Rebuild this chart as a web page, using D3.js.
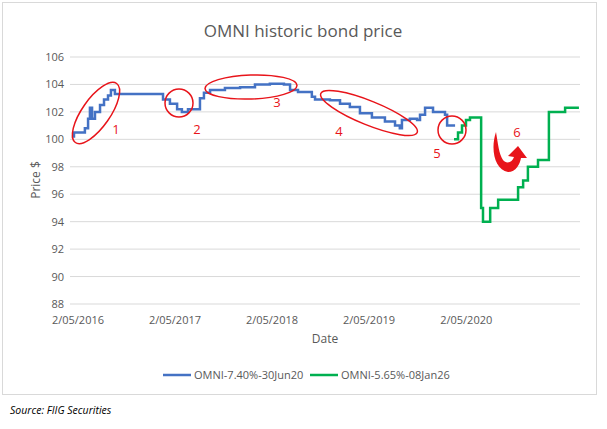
<!DOCTYPE html><html><head><meta charset="utf-8">
<script src="https://cdn.jsdelivr.net/npm/d3@7"></script>
<style>body{margin:0;background:#fff}text{font-family:"Open Sans","Liberation Sans",sans-serif}</style></head><body>
<svg id="c" width="607" height="429"></svg>
<script>
const blueDates=["2016-04-09","2016-04-17","2016-05-10","2016-05-28","2016-06-09","2016-06-16","2016-06-24","2016-07-05","2016-07-24","2016-08-08","2016-08-23","2016-09-03","2016-09-18","2017-03-18","2017-04-13","2017-05-10","2017-05-28","2017-06-20","2017-08-04","2017-08-19","2017-09-11","2017-11-06","2018-01-02","2018-02-27","2018-04-24","2018-06-16","2018-07-09","2018-08-08","2018-09-29","2018-10-11","2018-12-06","2019-01-13","2019-02-19","2019-03-29","2019-05-13","2019-07-01","2019-08-08","2019-08-26","2019-09-03","2019-10-03","2019-10-30","2019-11-10","2019-11-29","2019-12-29","2020-02-12","2020-02-20","2020-03-21"];
const blueValues=[100.2,100.5,100.5,100.8,101.5,102.3,101.5,102,102.5,102.9,103.2,103.6,103.3,102.9,102.6,102.2,102.0,102.2,103.0,103.4,103.6,103.75,103.8,104.0,104.05,104.0,103.6,103.45,103.1,102.9,102.85,102.6,102.35,101.9,101.6,101.3,101.0,100.8,101.4,101.5,101.4,101.8,102.3,102.0,101.8,101.0,101.0];
const greenDates=["2020-03-17","2020-04-01","2020-04-16","2020-05-01","2020-05-16","2020-06-19","2020-06-27","2020-07-04","2020-07-31","2020-08-30","2020-11-13","2020-12-02","2020-12-20","2021-01-27","2021-03-09","2021-05-09","2021-06-30"];
const greenValues=[100.0,100.5,101.0,101.4,101.6,101.6,95.0,94.0,95.0,95.6,96.5,97.0,98.0,98.5,102.0,102.3,102.3];
const yTicks=[88,90,92,94,96,98,100,102,104,106];
const xTickDates=["2016-05-02","2017-05-02","2018-05-02","2019-05-02","2020-05-02"];
const xTickLabels=["2/05/2016","2/05/2017","2/05/2018","2/05/2019","2/05/2020"];
const seriesNames=["OMNI-7.40%-30Jun20","OMNI-5.65%-08Jan26"];
const colors=["#4472C4","#00B050"];

const P=d3.timeParse("%Y-%m-%d");
const svg=d3.select("#c");
svg.append("rect").attr("x",2.5).attr("y",2.5).attr("width",594).attr("height",392).attr("fill","none").attr("stroke","#d9d9d9");
const x=d3.scaleTime().domain([P("2016-04-02"),P("2021-07-04")]).range([70,580]);
const y=d3.scaleLinear().domain([88,106]).range([304,57]);
svg.append("g").selectAll("line").data(yTicks).join("line").attr("x1",70).attr("x2",580)
 .attr("y1",d=>y(d)).attr("y2",d=>y(d)).attr("stroke","#d9d9d9");
svg.append("g").selectAll("text").data(yTicks).join("text").attr("x",64).attr("y",d=>y(d)+4)
 .attr("text-anchor","end").attr("font-size",11).attr("fill","#595959").text(d=>d);
svg.append("g").selectAll("text").data(xTickDates).join("text").attr("x",d=>x(P(d))).attr("y",324)
 .attr("text-anchor","middle").attr("font-size",11).attr("fill","#595959").text((d,i)=>xTickLabels[i]);
svg.append("text").attr("x",303).attr("y",37).attr("text-anchor","middle").attr("font-size",17).attr("fill","#595959").text("OMNI historic bond price");
svg.append("text").attr("x",325).attr("y",343).attr("text-anchor","middle").attr("font-size",12).attr("fill","#595959").text("Date");
svg.append("text").attr("transform","translate(40,180) rotate(-90)").attr("text-anchor","middle").attr("font-size",12).attr("fill","#595959").text("Price $");
const line=d3.line().x(d=>x(d[0])).y(d=>y(d[1])).curve(d3.curveStepAfter);
const blue=blueDates.map((d,i)=>[P(d),blueValues[i]]);
const green=greenDates.map((d,i)=>[P(d),greenValues[i]]);
svg.append("path").attr("d",line(blue)).attr("fill","none").attr("stroke",colors[0]).attr("stroke-width",2.5);
svg.append("path").attr("d",line(green)).attr("fill","none").attr("stroke",colors[1]).attr("stroke-width",2.5);
// legend
[[163,0],[310,1]].forEach(([lx,i])=>{
 svg.append("line").attr("x1",lx).attr("x2",lx+28).attr("y1",375).attr("y2",375).attr("stroke",colors[i]).attr("stroke-width",2.5);
 svg.append("text").attr("x",lx+31).attr("y",379).attr("font-size",11).attr("fill","#595959").text(seriesNames[i]);
});
svg.append("text").attr("x",10).attr("y",414).attr("font-size",10.5).attr("font-style","italic").attr("fill","#000").text("Source: FIIG Securities");
// annotations
const red="#e8141a";
const ell=[[96,113,36,14,-55],[179,103,14,14,0],[251,87,46,12,-2],[369,113,52,12,22],[452,130,14,14,0]];
ell.forEach(e=>svg.append("ellipse").attr("cx",0).attr("cy",0).attr("rx",e[2]).attr("ry",e[3])
 .attr("transform",`translate(${e[0]},${e[1]}) rotate(${e[4]})`).attr("fill","none").attr("stroke",red).attr("stroke-width",1.5));
[["1",116,134],["2",197,134],["3",277,107],["4",339,136],["5",437,158],["6",517,137]].forEach(t=>
 svg.append("text").attr("x",t[1]).attr("y",t[2]).attr("text-anchor","middle").attr("font-size",13).attr("fill",red).text(t[0]));
svg.append("path").attr("d","M496,132 C490,150 495,170 508,172 C516,172 520,164 521,158 L527,158 L518,146 L508,156 L514,157 C512,163 506,164 503,160 C499,154 498,144 496,132 Z").attr("fill",red);
</script></body></html>
